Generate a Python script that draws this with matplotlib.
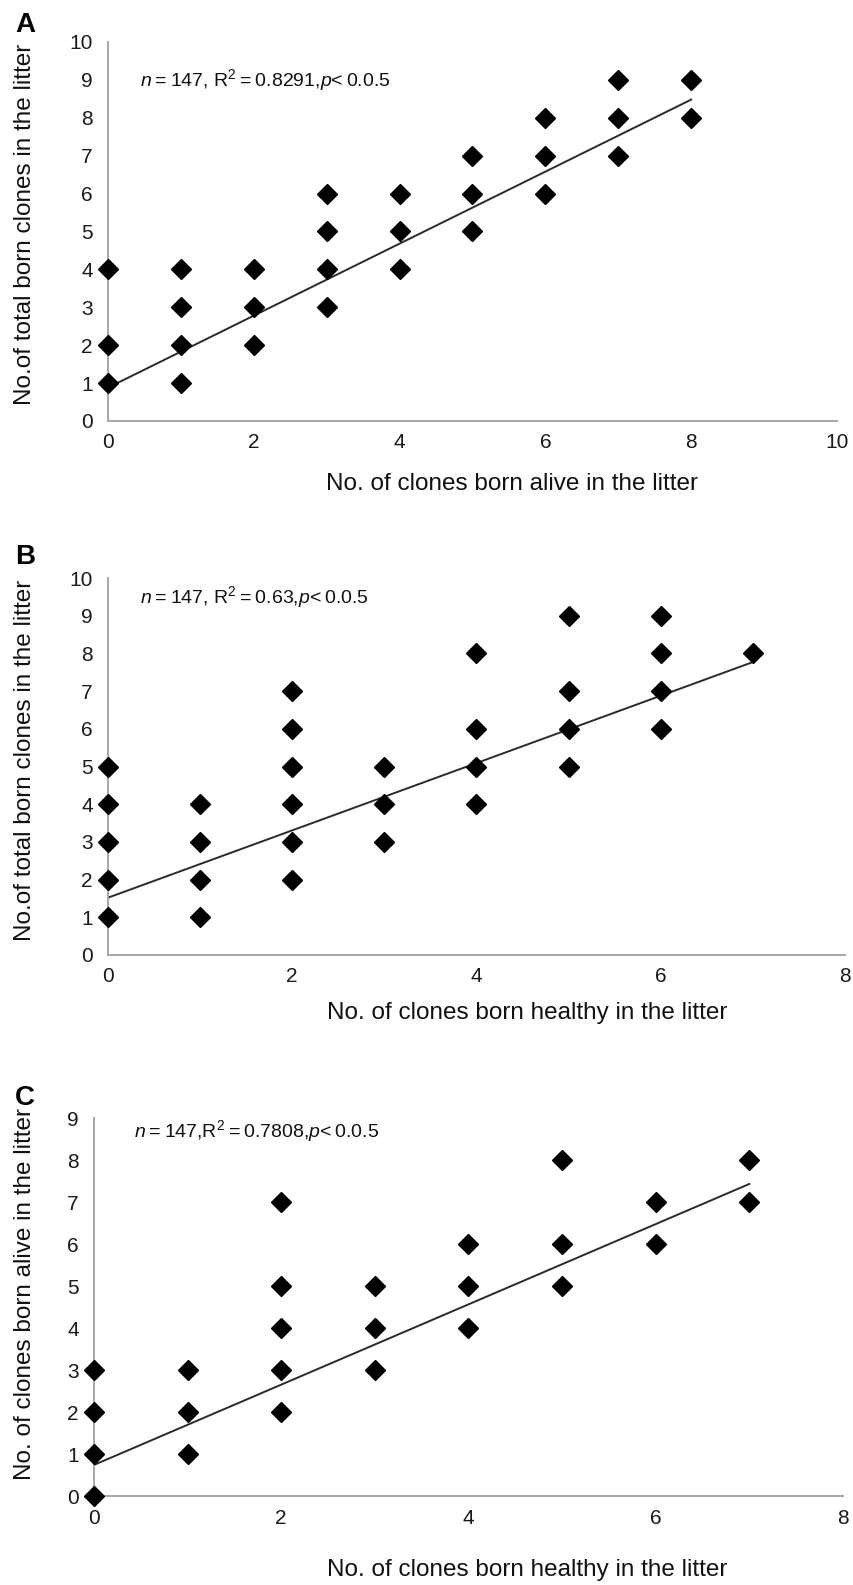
import matplotlib
matplotlib.use("Agg")
import matplotlib.pyplot as plt

plt.rcParams['font.family'] = ['Liberation Sans', 'DejaVu Sans']
plt.rcParams['mathtext.fontset'] = 'custom'
plt.rcParams['mathtext.rm'] = 'Liberation Sans'
plt.rcParams['mathtext.it'] = 'Liberation Sans:italic'

# Panel A: total born vs born alive
a_x = [0, 0, 0, 1, 1, 1, 1, 2, 2, 2, 3, 3, 3, 3, 4, 4, 4, 5, 5, 5, 6, 6, 6, 7, 7, 7, 8, 8]
a_y = [1, 2, 4, 1, 2, 3, 4, 2, 3, 4, 3, 4, 5, 6, 4, 5, 6, 5, 6, 7, 6, 7, 8, 7, 8, 9, 8, 9]
a_fit_x = [0, 8]
a_fit_y = [0.88, 8.48]

# Panel B: total born vs born healthy
b_x = [0, 0, 0, 0, 0, 1, 1, 1, 1, 2, 2, 2, 2, 2, 2, 3, 3, 3,
       4, 4, 4, 4, 5, 5, 5, 5, 6, 6, 6, 6, 7]
b_y = [1, 2, 3, 4, 5, 1, 2, 3, 4, 2, 3, 4, 5, 6, 7, 3, 4, 5,
       4, 5, 6, 8, 5, 6, 7, 9, 6, 7, 8, 9, 8]
b_fit_x = [0, 7]
b_fit_y = [1.52, 7.77]

# Panel C: born alive vs born healthy
c_x = [0, 0, 0, 0, 1, 1, 1, 2, 2, 2, 2, 2, 3, 3, 3, 4, 4, 4, 5, 5, 5, 6, 6, 7, 7]
c_y = [0, 1, 2, 3, 1, 2, 3, 2, 3, 4, 5, 7, 3, 4, 5, 4, 5, 6, 5, 6, 8, 6, 7, 7, 8]
c_fit_x = [0, 7]
c_fit_y = [0.74, 7.43]

W, H = 854, 1585
fig = plt.figure(figsize=(W / 100, H / 100), dpi=100)

ts = '\u2009'  # thin space


def px_axes(l, r, b, t):
    return fig.add_axes([l / W, 1 - b / H, (r - l) / W, (b - t) / H])


panels = [
    dict(box=(108, 837, 421, 42), x=a_x, y=a_y, fx=a_fit_x, fy=a_fit_y,
         xlim=10, ylim=10, xticks=range(0, 11, 2), yticks=range(0, 11),
         letter='A', letter_y=25,
         ann=r'$\it{n}$' + ts + '=' + ts + '147, R$^{2}$' + ts + '=' + ts + '0.8291,$\it{p}$<' + ts + '0.0.5',
         ann_x=140, ann_y=9.0,
         xlabel='No. of clones born alive in the litter', xl=(512, 484),
         ylabel='No.of total born clones in the litter', yl_mid=224),
    dict(box=(108, 845, 955, 578), x=b_x, y=b_y, fx=b_fit_x, fy=b_fit_y,
         xlim=8, ylim=10, xticks=range(0, 9, 2), yticks=range(0, 11),
         letter='B', letter_y=557,
         ann=r'$\it{n}$' + ts + '=' + ts + '147, R$^{2}$' + ts + '=' + ts + '0.63,$\it{p}$<' + ts + '0.0.5',
         ann_x=140, ann_y=9.5,
         xlabel='No. of clones born healthy in the litter', xl=(527, 1013),
         ylabel='No.of total born clones in the litter', yl_mid=760),
    dict(box=(94, 843, 1496, 1118), x=c_x, y=c_y, fx=c_fit_x, fy=c_fit_y,
         xlim=8, ylim=9, xticks=range(0, 9, 2), yticks=range(0, 10),
         letter='C', letter_y=1098,
         ann=r'$\it{n}$' + ts + '=' + ts + '147,R$^{2}$' + ts + '=' + ts + '0.7808,$\it{p}$<' + ts + '0.0.5',
         ann_x=134, ann_y=8.7,
         xlabel='No. of clones born healthy in the litter', xl=(527, 1570),
         ylabel='No. of clones born alive in the litter', yl_mid=1294),
]

for p in panels:
    l, r, b, t = p['box']
    ax = px_axes(l, r, b, t)
    ax.plot(p['x'], p['y'], linestyle='none', marker='D', ms=10.5,
            color='black', zorder=3, clip_on=False)
    ax.plot(p['fx'], p['fy'], color='#2a2a2a', lw=1.4, zorder=2)
    ax.set_xlim(0, p['xlim'])
    ax.set_ylim(0, p['ylim'])
    ax.set_xticks(list(p['xticks']))
    ax.set_yticks(list(p['yticks']))
    ax.tick_params(length=0, labelsize=15, colors='#1a1a1a')
    ax.tick_params(axis='y', pad=11)
    ax.tick_params(axis='x', pad=9)
    for s in ['top', 'right']:
        ax.spines[s].set_visible(False)
    for s in ['left', 'bottom']:
        ax.spines[s].set_color('#a6a6a6')
        ax.spines[s].set_linewidth(1.4)
    ax.text((p['ann_x'] - l) / (r - l) * p['xlim'], p['ann_y'], p['ann'],
            fontsize=14, va='center', ha='left', color='#111111')
    ax.set_xlabel(p['xlabel'], fontsize=17.5, color='#111111', va='center')
    ax.xaxis.set_label_coords((p['xl'][0] - l) / (r - l), (b - p['xl'][1]) / (b - t))
    ax.set_ylabel(p['ylabel'], fontsize=17.5, color='#111111', va='center')
    ax.yaxis.set_label_coords(-(l - 25) / (r - l), (b - p['yl_mid']) / (b - t))
    fig.text(25 / W, 1 - p['letter_y'] / H, p['letter'], fontsize=20,
             fontweight='bold', ha='center', va='center')

fig.savefig('out.png', dpi=100, facecolor='white')
